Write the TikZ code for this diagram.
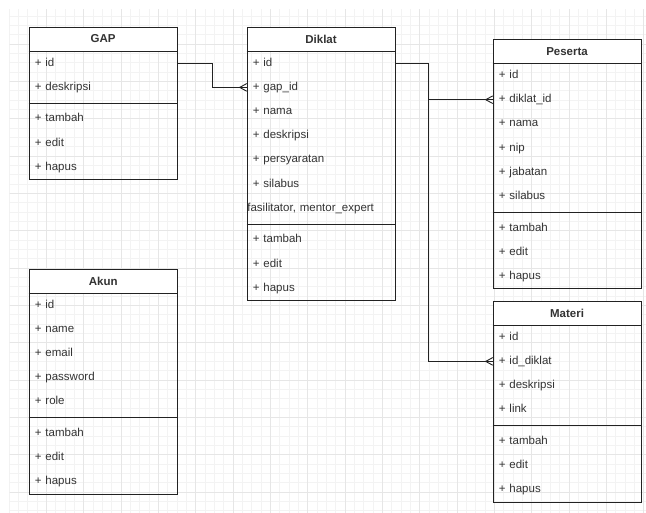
\documentclass[tikz,border=0pt]{standalone}
\usepackage{fontspec}
\setmainfont{Liberation Sans}
\usetikzlibrary{calc}
\definecolor{ln}{HTML}{222222}
\definecolor{tx}{HTML}{333333}
\definecolor{gminor}{HTML}{F3F3F3}
\definecolor{gmajor}{HTML}{E6E6E6}

\tikzset{
  hdr/.style={minimum height=24.2pt, inner sep=0pt, fill=white,
    font=\bfseries\fontsize{11.5}{13}\selectfont, text=tx, anchor=north west},
  rowbox/.style={minimum height=24.2pt, inner xsep=6pt, inner ysep=0pt, align=left,
    font=\fontsize{11.5}{13}\selectfont, text=tx, anchor=north west,
    text height=8.3pt, text depth=2.4pt},
  classbox/.style={draw=ln, line width=1pt, anchor=north west, inner sep=0pt},
  sepline/.style={draw=ln, line width=1pt},
  er/.style={draw=ln, line width=0.9pt},
}

% name, x, y, width, title, fields, methods
\newcommand{\umlclass}[7]{%
  \pgfmathsetmacro{\cx}{#2}%
  \pgfmathsetmacro{\cy}{#3}%
  \pgfmathsetmacro{\cw}{#4}%
  \pgfmathsetmacro{\tw}{#4-12}%
  \node[hdr, minimum width=\cw pt] (#1-h) at (\cx,\cy) {#5};
  \foreach \fld [count=\i] in {#6} {
    \node[rowbox, text width=\tw pt] (#1-\i) at (\cx,{\cy+24.2*\i}) {\fld};
    \xdef\nf{\i}
  }
  \pgfmathsetmacro{\ys}{\cy+24.2*(\nf+1)+3.72}%
  \pgfmathsetmacro{\ym}{\cy+24.2*(\nf+1)+7.44}%
  \foreach \fld [count=\j] in {#7} {
    \node[rowbox, text width=\tw pt] (#1-m\j) at (\cx,{\ym+24.2*(\j-1)}) {\fld};
    \xdef\nm{\j}
  }
  \pgfmathsetmacro{\ch}{24.2*(\nf+1+\nm)+7.44}%
  \node[classbox, minimum width=\cw pt, minimum height=\ch pt] (#1) at (\cx,\cy) {};
  \draw[sepline] (#1-h.south west) -- (#1-h.south east);
  \draw[sepline] (\cx,\ys) -- ({\cx+\cw},\ys);
}

\newcommand{\crowfoot}[1]{%
  \draw[er] ($(#1)+(-7,0)$) -- ($(#1)+(0,-3.8)$);
  \draw[er] ($(#1)+(-7,0)$) -- ($(#1)+(0,3.8)$);
}

\begin{document}
\begin{tikzpicture}[x=1pt,y=-1pt]
\useasboundingbox (0,0) rectangle (646,513);
\fill[white] (0,0) rectangle (646,513);

% background grid
\begin{scope}
  \clip (9.5,9.5) rectangle (646,513);
  \foreach \k in {0,...,69} {
    \draw[gminor, line width=0.6pt] ({9.05+9.333*\k},0) -- ({9.05+9.333*\k},520);
  }
  \foreach \k in {0,...,55} {
    \draw[gminor, line width=0.6pt] (0,{6.7+9.333*\k}) -- (650,{6.7+9.333*\k});
  }
  \foreach \k in {0,...,17} {
    \draw[gmajor, line width=0.7pt] ({9.05+37.333*\k},0) -- ({9.05+37.333*\k},520);
  }
  \foreach \k in {0,...,14} {
    \draw[gmajor, line width=0.7pt] (0,{6.7+37.333*\k}) -- (650,{6.7+37.333*\k});
  }
\end{scope}

\umlclass{gap}{28.7}{26.7}{148.6}{GAP}
  {+ id, + deskripsi}
  {+ tambah, + edit, + hapus}

\umlclass{diklat}{246.7}{26.7}{148.3}{Diklat}
  {+ id, + gap\_id, + nama, + deskripsi, + persyaratan, + silabus,
   {\hspace*{-5.5pt}fasilitator, mentor\_expert}}
  {+ tambah, + edit, + hapus}

\umlclass{peserta}{492.7}{39}{148.3}{Peserta}
  {+ id, + diklat\_id, + nama, + nip, + jabatan, + silabus}
  {+ tambah, + edit, + hapus}

\umlclass{materi}{492.7}{300.7}{148.3}{Materi}
  {+ id, + id\_diklat, + deskripsi, + link}
  {+ tambah, + edit, + hapus}

\umlclass{akun}{28.7}{268.7}{148.6}{Akun}
  {+ id, + name, + email, + password, + role}
  {+ tambah, + edit, + hapus}

% connectors
\draw[er] (gap-1.east) -| ($(gap-1.east)!.5!(diklat-2.west)$) |- (diklat-2.west);
\crowfoot{diklat-2.west}

\coordinate (jn) at ($(diklat-1.east)+(32.7,0)$);
\draw[er] (diklat-1.east) -- (jn) |- (peserta-2.west);
\draw[er] (jn) |- (materi-2.west);
\crowfoot{peserta-2.west}
\crowfoot{materi-2.west}
\end{tikzpicture}
\end{document}
